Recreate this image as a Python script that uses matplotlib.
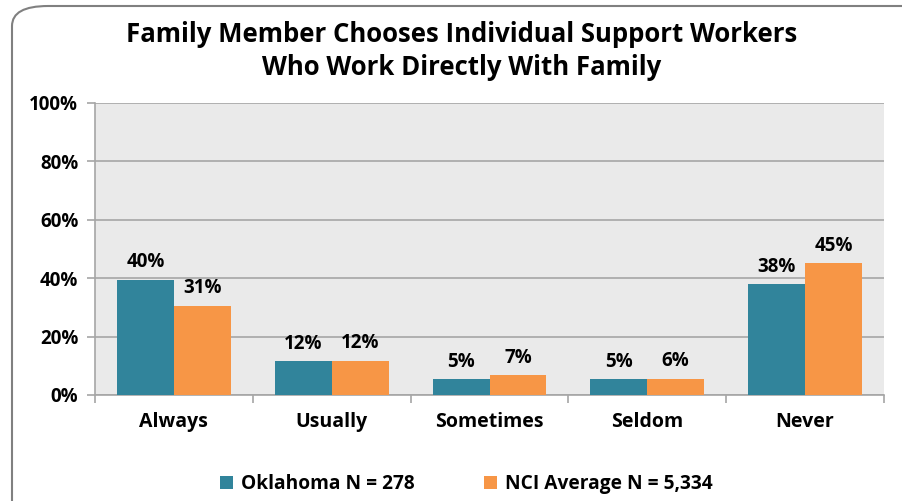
import matplotlib.pyplot as plt
import numpy as np
from matplotlib.patches import FancyBboxPatch

categories = ['Always', 'Usually', 'Sometimes', 'Seldom', 'Never']
oklahoma = [39.5, 11.5, 5.4, 5.4, 38.0]
nci = [30.6, 11.8, 6.7, 5.6, 45.2]
ok_labels = ['40%', '12%', '5%', '5%', '38%']
nci_labels = ['31%', '12%', '7%', '6%', '45%']
yticks = [0, 20, 40, 60, 80, 100]

teal = '#31849B'
orange = '#F79646'

plt.rcParams['font.family'] = ['Open Sans', 'DejaVu Sans']
plt.rcParams['font.weight'] = 'bold'

fig = plt.figure(figsize=(9.02, 5.01), dpi=100)
W, H = 902, 501

# rounded frame around the chart
frame = FancyBboxPatch((12 / W, -0.2), 1.2, (H - 6) / H + 0.2,
                       boxstyle='round,pad=0,rounding_size=0.04',
                       transform=fig.transFigure, facecolor='white',
                       edgecolor='#808080', linewidth=1.5, zorder=-5)
fig.patches.append(frame)

ax = fig.add_axes([95 / W, (H - 395) / H, (884 - 95) / W, (395 - 103) / H])
ax.set_zorder(2)
ax.set_facecolor('#EAEAEA')

x = np.arange(len(categories))
w = 0.36
b1 = ax.bar(x - w / 2, oklahoma, w, color=teal, label='Oklahoma N = 278', zorder=3)
b2 = ax.bar(x + w / 2, nci, w, color=orange, label='NCI Average N = 5,334', zorder=3)

for rect, lab in zip(b1, ok_labels):
    ax.text(rect.get_x() + rect.get_width() / 2, rect.get_height() + 2.5, lab,
            ha='center', va='bottom', fontsize=13.5, fontweight='bold')
for rect, lab in zip(b2, nci_labels):
    ax.text(rect.get_x() + rect.get_width() / 2, rect.get_height() + 2.5, lab,
            ha='center', va='bottom', fontsize=13.5, fontweight='bold')

ax.set_xlim(-0.5, len(categories) - 0.5)
ax.set_ylim(0, 100)
ax.set_yticks(yticks)
ax.set_yticklabels([f'{v}%' for v in yticks], fontsize=13.5, fontweight='bold')
ax.yaxis.grid(True, color='#A6A6A6', linewidth=1.2, zorder=1)
ax.set_axisbelow(True)

ax.set_xticks(np.arange(-0.5, len(categories), 1))
ax.set_xticklabels([])
ax.set_xticks(x, minor=True)
ax.set_xticklabels(categories, minor=True, fontsize=14, fontweight='bold')
ax.tick_params(axis='x', which='minor', length=0, pad=12)
ax.tick_params(axis='x', which='major', length=6, color='#A6A6A6', width=1.2)
ax.tick_params(axis='y', length=6, color='#A6A6A6', width=1.2, pad=6)

for side in ['top', 'right']:
    ax.spines[side].set_visible(False)
for side in ['left', 'bottom']:
    ax.spines[side].set_color('#A6A6A6')
    ax.spines[side].set_linewidth(1.2)

fig.text(462 / W, 1 - 51 / H,
         'Family Member Chooses Individual Support Workers\nWho Work Directly With Family',
         ha='center', va='center', fontsize=18.5, fontweight='bold', linespacing=1.25)

fig.legend(handles=[b1, b2], loc='center', bbox_to_anchor=(466 / W, 1 - 484 / H),
           ncol=2, frameon=False, handlelength=0.7, handleheight=0.7,
           columnspacing=3.6, handletextpad=0.4, prop={'weight': 'bold', 'size': 13.8})

fig.savefig('out.png', dpi=100)
